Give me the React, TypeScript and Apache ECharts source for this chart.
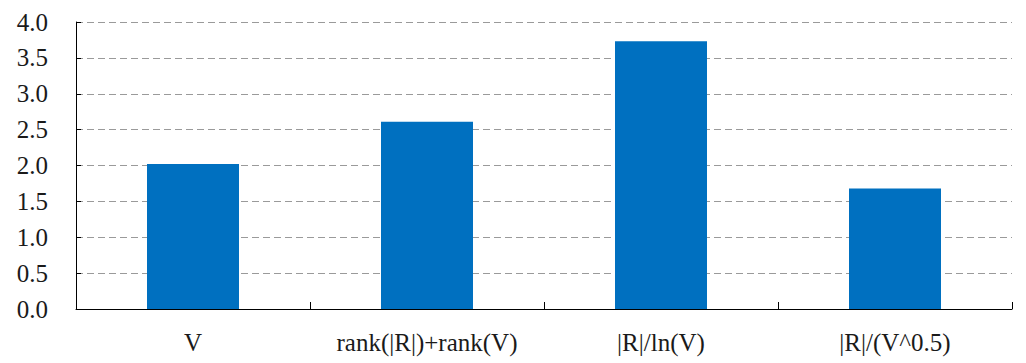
import React, { useEffect, useRef } from "react";
import * as echarts from "echarts";

const categories = ["V", "rank(|R|)+rank(V)", "|R|/ln(V)", "|R|/(V^0.5)"];
const values = [2.02, 2.61, 3.73, 1.68];

export default function App() {
  const ref = useRef<HTMLDivElement>(null);
  useEffect(() => {
    if (!ref.current) return;
    const chart = echarts.init(ref.current, null, { renderer: "svg" });
    const font = "Liberation Serif";
    chart.setOption({
      animation: false,
      backgroundColor: "#ffffff",
      grid: { left: 76, right: 14, top: 22, bottom: 54, containLabel: false },
      xAxis: {
        type: "category",
        data: categories,
        axisLine: { show: true, lineStyle: { color: "#000", width: 1 } },
        axisTick: { show: true, inside: true, length: 7, interval: 0, lineStyle: { color: "#000" } },
        axisLabel: { color: "#1a1a1a", fontFamily: font, fontSize: 25, margin: 21, interval: 0, hideOverlap: false },
        splitLine: { show: false },
      },
      yAxis: {
        type: "value",
        min: 0,
        max: 4,
        interval: 0.5,
        axisLine: { show: true, lineStyle: { color: "#000", width: 1 } },
        axisTick: { show: true, inside: true, length: 5, lineStyle: { color: "#000" } },
        axisLabel: {
          color: "#1a1a1a",
          fontFamily: font,
          fontSize: 25,
          margin: 28,
          formatter: (v: number) => v.toFixed(1),
        },
        splitLine: { show: true, lineStyle: { color: "#9a9a9a", width: 1, type: [7, 4] } },
      },
      series: [
        {
          type: "bar",
          data: values,
          barWidth: 92,
          itemStyle: { color: "#0070C0" },
        },
      ],
    });
    return () => chart.dispose();
  }, []);
  return (
    <div
      ref={ref}
      style={{ position: "fixed", left: 0, top: 0, width: 1026, height: 363 }}
    />
  );
}
